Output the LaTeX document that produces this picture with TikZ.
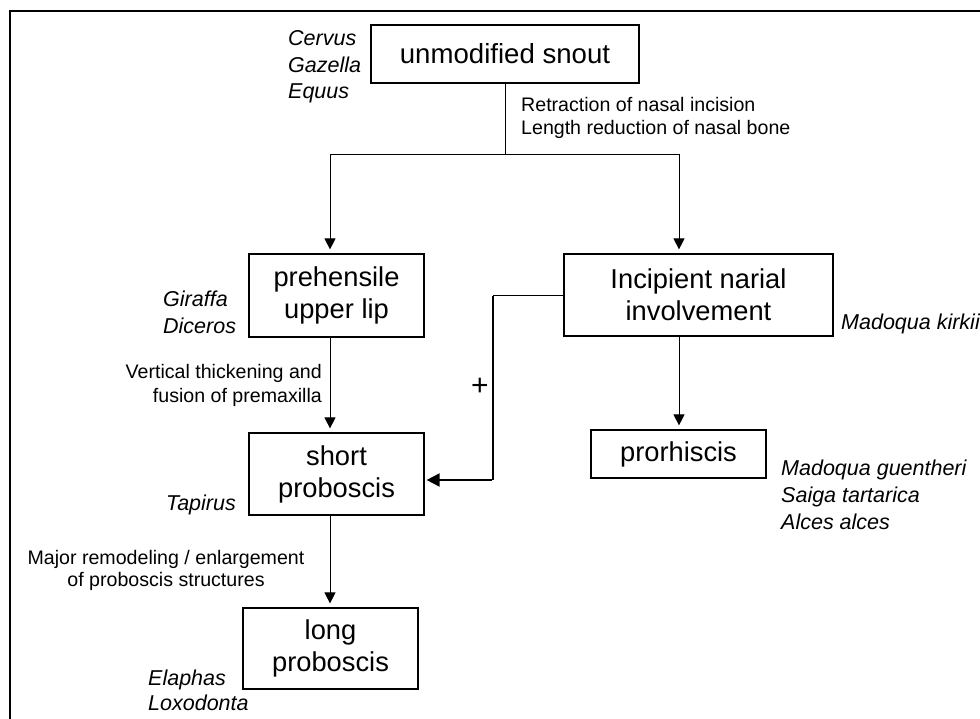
\documentclass[tikz,border=0pt]{standalone}
\usepackage{fontspec}
\setmainfont{Liberation Sans}
\usetikzlibrary{arrows.meta}
\begin{document}
\begin{tikzpicture}[x=1pt,y=-1pt,
  box/.style={draw, line width=1.2pt, inner sep=0pt, align=center, font=\fontsize{27.3}{32}\selectfont},
  taxa/.style={inner sep=0pt, align=left, font=\fontsize{21.5}{26.5}\selectfont\itshape},
  note/.style={inner sep=0pt, font=\fontsize{19.6}{23}\selectfont},
  conn/.style={line width=1pt},
  arr/.style={conn, -{Triangle[length=11pt,width=11pt]}, shorten >=4pt}]
\useasboundingbox (0,0) rectangle (980,719);
% frame
\draw[line width=1.1pt] (10,719) -- (10,11) -- (980,11);
% boxes
\node[box, minimum width=268pt, minimum height=58pt, font=\fontsize{27.6}{32}\selectfont] (snout) at (505,54) {unmodified snout};
\node[box, minimum width=175pt, minimum height=83pt] (lip) at (336.5,295.5) {prehensile\\upper lip};
\node[box, minimum width=269pt, minimum height=82pt] (narial) at (698.5,295) {Incipient narial\\involvement};
\node[box, minimum width=175pt, minimum height=82pt] (short) at (336.5,474) {short\\proboscis};
\node[box, minimum width=175pt, minimum height=48pt] (pro) at (678.5,454) {prorhiscis};
\node[box, minimum width=175pt, minimum height=81pt] (long) at (330.5,648.5) {long\\proboscis};
% taxa
\node[taxa, anchor=west] (t1) at (288,67) {Cervus\\Gazella\\Equus};
\node[taxa, anchor=west, font=\fontsize{21.5}{27}\selectfont\itshape] (t2) at (163,312.5) {Giraffa\\Diceros};
\node[taxa, anchor=west] (t3) at (841,324) {Madoqua kirkii};
\node[taxa, anchor=east] (t4) at (236,505) {Tapirus};
\node[taxa, anchor=west, font=\fontsize{21.5}{27}\selectfont\itshape] (t5) at (781,495) {Madoqua guentheri\\Saiga tartarica\\Alces alces};
\node[taxa, anchor=west, font=\fontsize{21.5}{25}\selectfont\itshape] (t6) at (148,690.5) {Elaphas\\Loxodonta};
% notes
\node[note, anchor=west, align=left] (n1) at (521,118) {Retraction of nasal incision\\Length reduction of nasal bone};
\node[note, anchor=east, align=right, font=\fontsize{19.6}{24}\selectfont] (n2) at (322,385) {Vertical thickening and\\fusion of premaxilla};
\node[note, align=center, font=\fontsize{19.6}{22}\selectfont] (n3) at (166,570) {Major remodeling / enlargement\\of proboscis structures};
\node[inner sep=0pt, font=\fontsize{30}{30}\selectfont] (plus) at (480,387) {+};
% connectors
\coordinate (split) at (505,155);
\coordinate (xl) at (330,0);
\coordinate (xr) at (679,0);
\coordinate (fb) at (493,296);
\coordinate (fbb) at (493,480);
\draw[conn] (snout.south) -- (split);
\draw[arr] (split) -| (lip.north -| xl);
\draw[arr] (split) -| (narial.north -| xr);
\draw[arr] (lip.south -| xl) -- (short.north -| xl);
\draw[arr] (narial.south -| xr) -- (pro.north -| xr);
\draw[conn] (narial.west |- fb) -- (fb);
\draw[line width=1.6pt] (fb) -- (fbb);
\draw[line width=2pt, -{Triangle[length=13pt,width=13pt]}, shorten >=2pt] ([xshift=-0.8pt]fbb) -- (short.east |- fbb);
\draw[arr] (short.south -| xl) -- (long.north -| xl);
\end{tikzpicture}
\end{document}
